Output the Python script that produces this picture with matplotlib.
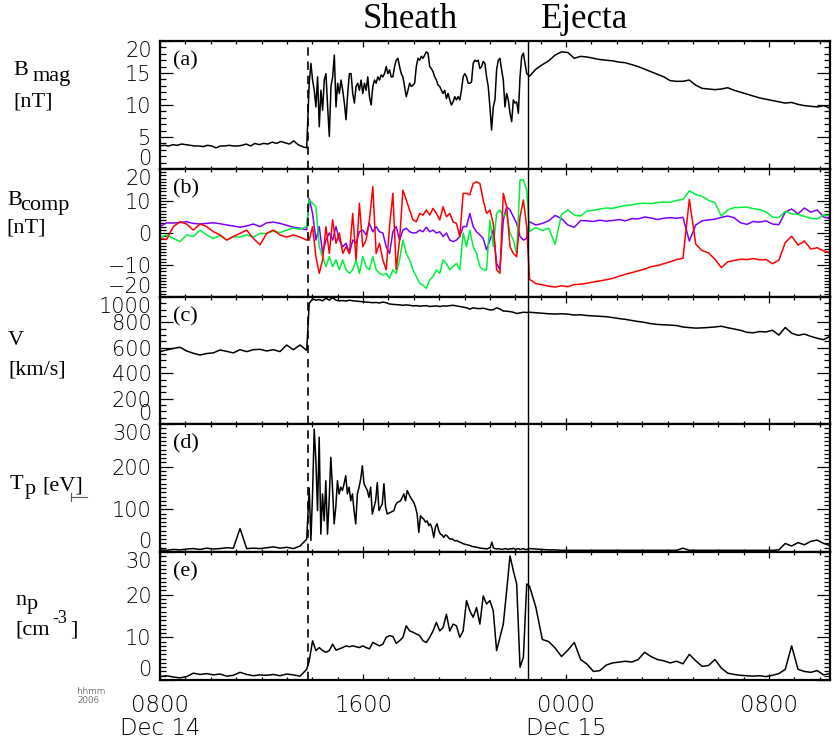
import numpy as np
import matplotlib
matplotlib.use('Agg')
import matplotlib.pyplot as plt
from matplotlib.ticker import FixedLocator, MultipleLocator
from matplotlib.lines import Line2D

# time of the shock (dashed) and of the ejecta start (solid), hours of Dec 14
SHOCK_T = 13.83
EJECTA_T = 22.5

# segments: pre-shock, sheath, ejecta (hours of Dec 14)
PRE_T = (8.0, 13.78)
SHEATH_T = (13.88, 22.45)
EJECTA_SEG_T = (22.56, 34.4)

# (a) |B| [nT]
B_PRE = [3.6, 3.7, 3.6, 3.8, 3.7, 3.9, 3.8, 3.7, 3.6, 3.6, 3.5, 3.7, 3.6, 3.3, 3.6, 3.6, 3.7, 3.6,
         3.6, 3.7, 3.9, 3.6, 4.0, 3.8, 4.0, 3.9, 4.2, 4.0, 4.3, 4.1, 3.9, 4.4, 3.8, 3.5, 3.3]
B_SHEATH = [13.4, 16.5, 13.9, 12.3, 9.7, 14.4, 6.6, 12.3, 9.2, 13.9,
            14.9, 9.7, 5.1, 12.9, 14.4, 17.8, 9.7, 13.4, 11.8, 13.9,
            12.3, 10.3, 7.7, 11.8, 14.9, 14.9, 11.8, 10.3, 12.9, 13.4,
            12.3, 13.9, 11.8, 13.4, 12.3, 14.4, 11.3, 10.0, 12.9, 13.9,
            13.4, 14.4, 13.9, 14.7, 14.4, 14.9, 16.0, 14.9, 15.5, 14.4,
            14.4, 16.0, 17.0, 17.3, 16.0, 14.9, 14.4, 12.9, 11.3, 12.3,
            13.4, 12.9, 13.1, 13.4, 16.0, 17.3, 17.0, 17.6, 17.3, 17.8,
            18.3, 18.1, 16.0, 15.7, 15.2, 14.4, 13.9, 13.1, 12.9, 12.3,
            11.8, 12.3, 11.0, 11.8, 10.8, 10.0, 10.5, 11.3, 10.8, 11.3,
            10.8, 12.3, 14.4, 14.9, 14.4, 13.4, 13.4, 13.6, 16.5, 17.0,
            16.8, 17.0, 15.7, 16.0, 16.8, 16.5, 14.4, 12.9, 9.7, 6.1,
            9.7, 10.8, 15.5, 17.0, 17.3, 15.5, 13.9, 9.7, 11.8, 10.8,
            8.7, 7.4, 10.8, 10.3, 10.5, 8.7, 14.4, 17.6, 18.1, 16.5,
            14.9]
B_EJECTA = [14.5, 15.6, 16.3, 16.9, 17.8, 18.3, 18.2, 17.3, 17.6, 17.5, 17.3, 17.1, 17.0, 16.9,
            16.7, 16.6, 16.3, 16.0, 15.6, 15.2, 14.8, 14.4, 13.8, 13.7, 13.7, 13.9, 13.1, 12.6,
            12.5, 12.4, 12.5, 12.7, 12.3, 12.0, 11.7, 11.4, 11.1, 10.9, 10.7, 10.5, 10.3, 10.4,
            10.1, 9.9, 9.8, 9.7, 9.9, 9.5]

# (b) field components [nT]
BX_PRE = [2.0, 3.2, 3.1, 3.3, 3.5, 3.0, 2.8, 3.0, 3.2, 2.9, 2.5, 2.2, 1.8, 2.2, 2.8, 2.0, 3.2,
          3.4, 3.0, 2.4, 1.8, 1.5, 1.0]
BY_PRE = [-1.4, -0.6, -1.7, -2.7, -0.6, -1.1, 0.9, -0.6, -1.7, -0.8, -2.2, -1.1, -1.3, -0.6,
          -1.3, -0.1, -0.2, 0.7, 0.1, 0.9, 1.5, 1.2, 2.0]
BZ_PRE = [-1.7, -2.0, 2.0, 3.5, 2.8, 0.9, 2.8, 2.0, 0.4, -0.6, -2.2, -1.1, -0.1, 0.9, -1.7,
          -3.7, -0.1, 0.9, -0.6, -1.3, -0.6, -1.3, -2.2]
BX_SHEATH = [10.8, 6.1, -2.2, 2.0, -6.4, -2.2, 0.0, -2.2, 2.0, -2.2,
             -4.3, -3.2, -6.4, -2.2, -3.2, 0.4, 0.9, -0.6, 3.0, 0.4,
             2.0, 0.4, 0.0, -4.3, -6.4, 0.4, 2.0, -2.2, 0.9, 1.5,
             0.4, 0.0, 0.1, 0.9, 0.4, 1.8, 0.4, 0.9, 0.0, 0.4,
             -1.1, 0.0, -2.2, -2.7, -2.2, -1.1, 2.0, 2.0, 6.1, 2.0,
             0.4, -0.6, -1.7, -5.3, -2.2, 0.9, -9.5, -11.5, 4.0, 8.2,
             7.2, 5.1, 3.0, -1.1, -2.2, -1.7]
BY_SHEATH = [10.3, 9.3, 8.2, -4.3, -7.4, -10.5, -7.4, -10.5, -8.4, -11.5,
             -8.4, -11.5, -12.6, -11.5, -8.4, -12.6, -7.4, -10.5, -11.5, -7.4,
             -11.5, -12.6, -13.1, -12.6, -14.2, -11.5, -12.6, -8.4, -2.2, -6.4,
             -8.4, -11.5, -13.6, -15.7, -16.3, -17.3, -14.7, -13.6, -11.5, -12.6,
             -8.4, -9.5, -11.5, -10.5, -9.5, -11.5, 0.0, -4.3, 0.9, -4.3,
             -6.4, -10.5, -11.5, -11.5, 4.0, -4.3, 6.1, 7.2, 5.1, 6.1,
             0.0, -2.2, -6.4, 16.6, 16.6, 13.4]
BZ_SHEATH = [-2.2, 2.0, -7.4, -12.6, -8.4, 2.0, -6.4, 4.1, -3.2, 0.0,
             -6.4, -4.3, -6.4, 6.1, -8.4, 9.3, -4.3, -2.2, 4.1, 14.5,
             -6.4, -3.2, -8.4, -11.5, 2.0, 12.4, -11.5, -2.2, 13.4, 10.3,
             7.2, 4.1, 3.5, 6.1, 5.6, 7.2, 5.6, 7.7, 6.1, 4.1,
             8.2, 5.1, 6.1, 3.5, 3.0, -1.1, 12.4, 12.4, 11.9, 15.5,
             16.0, 15.5, 10.3, 6.1, 7.2, 3.0, -11.5, -12.6, 12.4, 8.2,
             -4.3, -6.4, -7.4, 5.1, 10.3, 2.0]
BX_EJECTA = [3.5, 2.5, 3.0, 3.8, 5.5, 4.5, 2.5, 1.8, 3.9, 3.8, 3.6, 4.0, 3.7, 3.9, 4.2, 3.8,
             4.5, 4.4, 5.0, 4.7, 4.2, 4.6, 4.8, 4.6, 4.9, -2.5, 2.5, 3.8, 4.1, 4.3, 4.9, 5.3,
             4.8, 3.2, 2.7, 3.6, 3.4, 3.8, 2.8, 2.6, 6.5, 7.5, 6.0, 7.8, 6.5, 7.2, 5.0, 4.5]
BY_EJECTA = [0.5, 1.7, 0.8, 1.5, -3.5, 5.8, 7.2, 5.6, 5.3, 6.9, 7.1, 7.5, 7.8, 7.7, 8.2, 8.6,
             8.8, 9.2, 9.3, 9.2, 9.5, 9.7, 9.6, 10.2, 10.5, 13.2, 12.0, 11.5, 10.2, 9.5, 5.3,
             7.2, 7.9, 8.0, 8.1, 7.6, 7.3, 6.6, 5.0, 4.8, 6.8, 6.0, 5.8, 5.2, 4.6, 4.4, 5.6, 5.4]
BZ_EJECTA = [-14.5, -15.8, -16.2, -16.6, -16.9, -16.5, -16.8, -16.1, -16.0, -15.7, -15.3,
             -15.0, -14.6, -14.2, -13.5, -12.9, -12.4, -11.8, -11.3, -10.5, -10.2, -9.6, -9.0,
             -8.3, -7.9, 10.5, -3.5, -5.5, -6.2, -8.2, -10.8, -9.0, -8.6, -8.2, -8.3, -8.0,
             -8.4, -8.3, -9.6, -8.5, -3.0, -1.0, -3.8, -2.5, -5.0, -4.6, -5.6, -6.1]

# (c) speed [km/s]
V_PRE = [570, 583, 595, 604, 575, 557, 543, 555, 560, 583, 572, 560, 585, 570, 585, 588, 575,
         585, 570, 622, 585, 622, 580]
V_SHEATH = [950, 985, 975, 980, 970, 990, 975, 995, 975, 970,
            972, 968, 975, 970, 968, 965, 962, 960, 958, 955,
            957, 953, 960, 955, 945, 942, 940, 938, 935, 938,
            935, 930, 932, 928, 930, 932, 925, 928, 930, 925,
            930, 928, 932, 935, 930, 925, 920, 915, 905, 915,
            910, 908, 912, 905, 898, 900, 915, 905, 890, 888,
            885, 880, 870, 875, 880, 878]
V_EJECTA = [880, 876, 872, 868, 866, 868, 865, 858, 860, 854, 851, 848, 845, 838, 830, 824,
            815, 807, 800, 790, 784, 781, 779, 775, 764, 759, 755, 757, 760, 764, 770, 758,
            748, 738, 722, 718, 728, 725, 738, 700, 760, 715, 698, 708, 690, 675, 664, 690]

# (d) proton temperature [eV]
TP_PRE = [5, 4, 6, 5, 7, 8, 6, 9, 7, 8, 10, 9, 55, 8, 9, 8, 10, 12, 9, 11, 8, 14, 30]
TP_SHEATH = [150, 27, 136, 288, 214, 97, 269, 42, 136, 73,
             167, 42, 120, 222, 152, 66, 105, 167, 136, 152,
             144, 160, 179, 136, 152, 120, 136, 97, 66, 136,
             152, 171, 202, 160, 152, 144, 128, 152, 89, 105,
             120, 163, 97, 105, 113, 160, 105, 89, 91, 93,
             95, 97, 110, 116, 118, 120, 128, 136, 120, 144,
             136, 128, 122, 116, 105, 89, 46, 85, 80, 77,
             70, 73, 62, 66, 55, 34, 58, 66, 50, 42,
             40, 34, 40, 38, 33, 30, 31, 28, 26, 27,
             24, 23, 21, 19, 18, 17, 16, 15, 13, 12.5,
             12, 11, 10, 9, 9, 8, 8, 7, 9, 10,
             23, 9, 8, 7, 8, 7, 6, 7, 8, 7,
             6, 8, 7, 9, 6, 7, 8, 6, 7, 8,
             6, 6]
TP_EJECTA = [8, 7, 6, 5, 5, 4, 4, 4, 4, 4, 4, 4, 4, 4, 4, 4, 4, 4, 4, 4, 4, 4, 4, 4, 9, 4, 4,
             4, 4, 4, 4, 4, 4, 4, 4, 4, 4, 4, 4, 5, 20, 14, 22, 17, 25, 28, 20, 15]

# (e) proton density [cm^-3]
NP_PRE = [0.8, 1.0, 0.7, 0.5, 0.8, 1.6, 1.3, 1.5, 1.2, 1.4, 0.9, 1.1, 1.8, 1.3, 1.0, 1.2, 1.1,
          1.3, 1.0, 1.4, 1.2, 0.9, 2.5]
NP_SHEATH = [4.5, 9.2, 6.9, 7.6, 6.9, 6.5, 6.9, 8.4, 7.0, 7.3,
             7.6, 8.0, 7.8, 8.0, 7.8, 7.6, 8.0, 7.6, 7.3, 8.8,
             8.4, 8.0, 8.4, 10.0, 10.4, 10.2, 8.6, 9.2, 10.0, 12.7,
             11.5, 11.2, 10.8, 10.4, 9.2, 8.8, 10.0, 11.5, 13.5, 11.5,
             12.3, 15.4, 11.5, 13.1, 12.7, 10.0, 11.5, 18.6, 16.2, 14.7,
             17.0, 13.1, 19.7, 17.8, 18.6, 16.2, 6.9, 10.0, 13.1, 20.9,
             29.1, 25.6, 22.5, 3.0, 5.3, 22.5]
NP_EJECTA = [22.0, 17.0, 9.5, 9.0, 7.5, 5.5, 7.0, 8.8, 4.8, 3.7, 2.0, 2.2, 3.5, 4.0, 4.2, 4.4,
             4.2, 4.8, 6.5, 5.5, 4.8, 4.5, 4.0, 4.4, 3.8, 6.0, 4.5, 3.2, 3.4, 4.8, 2.8, 1.6,
             1.3, 1.1, 1.0, 0.9, 1.0, 0.8, 1.1, 1.5, 2.5, 8.0, 2.5, 2.0, 1.8, 2.2, 1.2, 1.5]

XTICKS = [8, 16, 24, 32]
XTICK_LABELS = ['0800\nDec 14', '1600', '0000\nDec 15', '0800']


def series(pre, sheath, ejecta):
    t = np.concatenate([np.linspace(*PRE_T, len(pre)),
                        np.linspace(*SHEATH_T, len(sheath)),
                        np.linspace(*EJECTA_SEG_T, len(ejecta))])
    return t, np.concatenate([pre, sheath, ejecta])


W, H = 834, 741
SERIF = 'Liberation Serif'
plt.rcParams['font.family'] = ['DejaVu Sans']
plt.rcParams['font.weight'] = 'light'

fig = plt.figure(figsize=(W / 100, H / 100), dpi=100)

edges = [41, 169, 297, 424, 552, 680]
left, right = 160, 830
axes = []
for i in range(5):
    top, bot = edges[i], edges[i + 1]
    ax = fig.add_axes([left / W, 1 - bot / H, (right - left) / W, (bot - top) / H])
    axes.append(ax)

# y ranges, major and minor steps
ylims = [(0, 20), (-20, 20), (0, 1000), (0, 300), (0, 30)]
ymajor = [5, 10, 200, 100, 10]
yminor = [1, 1, 50, 10, 1]
letters = ['(a)', '(b)', '(c)', '(d)', '(e)']

ax_a, ax_b, ax_c, ax_d, ax_e = axes
lw = 1.1
ax_a.plot(*series(B_PRE, B_SHEATH, B_EJECTA), color='k', lw=lw)
ax_b.plot(*series(BX_PRE, BX_SHEATH, BX_EJECTA), color='#7d00ff', lw=lw)
ax_b.plot(*series(BY_PRE, BY_SHEATH, BY_EJECTA), color='#00f03c', lw=lw)
ax_b.plot(*series(BZ_PRE, BZ_SHEATH, BZ_EJECTA), color='#ff0000', lw=lw)
ax_c.plot(*series(V_PRE, V_SHEATH, V_EJECTA), color='k', lw=lw)
ax_d.plot(*series(TP_PRE, TP_SHEATH, TP_EJECTA), color='k', lw=lw)
ax_e.plot(*series(NP_PRE, NP_SHEATH, NP_EJECTA), color='k', lw=lw)

for i, ax in enumerate(axes):
    ax.set_xlim(8, 34.4)
    ax.set_ylim(*ylims[i])
    ax.yaxis.set_major_locator(MultipleLocator(ymajor[i]))
    ax.yaxis.set_minor_locator(MultipleLocator(yminor[i]))
    ax.xaxis.set_major_locator(FixedLocator(XTICKS))
    ax.xaxis.set_minor_locator(MultipleLocator(1))
    ax.axvline(SHOCK_T, color='k', lw=1.2, ls=(0, (5, 3.5)))
    ax.axvline(EJECTA_T, color='k', lw=1.0)
    for s in ax.spines.values():
        s.set_linewidth(1.6)
    ax.tick_params(which='both', direction='in', top=True, right=True, width=0.9)
    ax.tick_params(axis='y', which='major', length=9.5, labelsize=15, pad=6)
    ax.tick_params(axis='y', which='minor', length=4.5)
    ax.tick_params(axis='x', which='major', length=4)
    ax.tick_params(axis='x', which='minor', length=2.5)
    ax.text(0.019, 0.845, letters[i], transform=ax.transAxes, family=SERIF,
            fontsize=16, fontweight='normal', va='center', ha='left')
    if i < 4:
        ax.tick_params(axis='x', labelbottom=False)

ax_e.set_xticklabels(XTICK_LABELS)
ax_e.tick_params(axis='x', labelsize=16.5, pad=10)
for t in ax_e.get_xticklabels():
    t.set_linespacing(1.0)

# first draw creates the ticks; then push the edge labels inside their panel
fig.canvas.draw()
for ax in axes:
    ticks = [t for t in ax.yaxis.get_major_ticks()
             if ax.get_ylim()[0] - 1e-6 <= t.get_loc() <= ax.get_ylim()[1] + 1e-6]
    ticks[0].label1.set_verticalalignment('bottom')
    ticks[-1].label1.set_verticalalignment('top')


def label(x, y, s, size=16):
    fig.text(x / W, 1 - y / H, s, family=SERIF, fontsize=size, fontweight='normal',
             ha='left', va='baseline')


label(13, 75, 'B')
label(33, 81, 'mag')
label(13, 106, '[nT]')
label(7, 205, 'B')
label(20, 210, 'comp')
label(6, 233, '[nT]')
label(8, 345, 'V')
label(8, 374, '[km/s]')
label(10, 489, 'T')
label(25, 494, 'p')
label(42, 490, '[eV]')
label(15, 605, 'n')
label(27, 609, 'p')
label(15, 634, '[cm')
label(52, 623, '-3', size=13)
label(70, 634, ']')

fig.add_artist(Line2D([71 / W, 87 / W], [1 - 497 / H, 1 - 497 / H], color='#555555', lw=0.8))
fig.add_artist(Line2D([71 / W, 71 / W], [1 - 493 / H, 1 - 501 / H], color='#555555', lw=0.8))

fig.text(410 / W, 1 - 20 / H, 'Sheath', family=SERIF, fontsize=25, fontweight='normal',
         ha='center', va='center')
fig.text(585 / W, 1 - 20 / H, 'Ejecta', family=SERIF, fontsize=25, fontweight='normal',
         ha='center', va='center')

fig.text(77 / W, 1 - 692 / H, 'hhmm', fontsize=6.3, ha='left', va='center')
fig.text(77 / W, 1 - 700.5 / H, '2006', fontsize=6.3, ha='left', va='center')

fig.savefig('out.png', dpi=100)
